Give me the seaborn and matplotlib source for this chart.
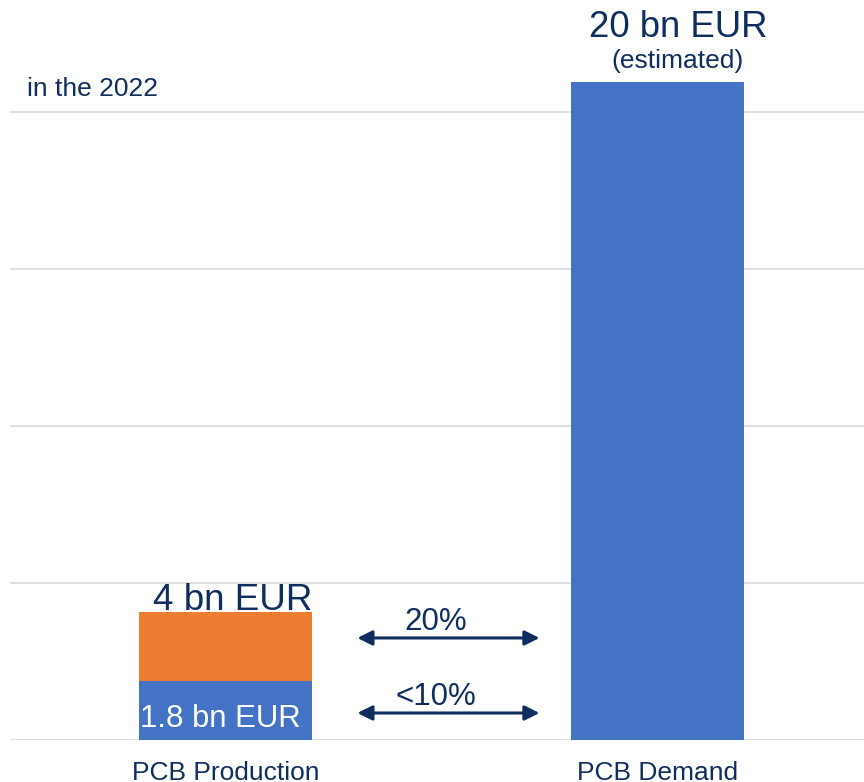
import numpy as np
import pandas as pd
import matplotlib
matplotlib.use("Agg")
import matplotlib.pyplot as plt
import seaborn as sns

# values (bn EUR)
categories = ["PCB Production", "PCB Demand"]
totals = [4.08, 20.95]          # full bar height
lower_part = [1.88, 0.0]        # blue bottom segment of the production bar
arrow_levels = [3.25, 0.86]
arrow_labels = ["20%", "<10%"]

navy = "#0f2d5e"
blue = "#4472C4"
orange = "#ED7D31"

sns.set_theme(style="white")
plt.rcParams["font.family"] = ["Liberation Sans", "DejaVu Sans"]

df_tot = pd.DataFrame({"cat": categories, "value": totals})
df_low = pd.DataFrame({"cat": categories, "value": lower_part})

fig = plt.figure(figsize=(8.64, 7.82), dpi=100)
ax = fig.add_axes([10 / 864, 42 / 782, 854 / 864, 740 / 782])

sns.barplot(data=df_tot, x="cat", y="value", hue="cat", palette=[orange, blue],
            width=0.4, linewidth=0, saturation=1, legend=False, ax=ax)
sns.barplot(data=df_low, x="cat", y="value", hue="cat", palette=[blue, blue],
            width=0.4, linewidth=0, saturation=1, legend=False, ax=ax)

ax.set_xlim(-0.5, 1.479)
ax.set_ylim(0, 23.57)
ax.set_yticks([0, 5, 10, 15, 20])
ax.set_yticklabels([])
ax.tick_params(axis="y", length=0)
ax.tick_params(axis="x", length=0, pad=15, labelsize=19, labelcolor=navy)
ax.yaxis.grid(True, color="#d9d9d9", linewidth=1.2)
ax.set_axisbelow(True)
for s in ax.spines.values():
    s.set_visible(False)
ax.set_xlabel("")
ax.set_ylabel("")

# labels
ax.text(0.015, totals[0] + 0.06, "4 bn EUR", ha="center", va="baseline",
        fontsize=26.5, color=navy, clip_on=False)
ax.text(-0.012, 0.41, "1.8 bn EUR", ha="center", va="baseline",
        fontsize=22.4, color="white")
ax.text(1.049, 22.39, "20 bn EUR", ha="center", va="baseline",
        fontsize=26.3, color=navy, clip_on=False)
ax.text(1.047, 21.4, "(estimated)", ha="center", va="baseline",
        fontsize=19, color=navy, clip_on=False)
ax.text(-0.46, 20.5, "in the 2022", ha="left", va="baseline",
        fontsize=19, color=navy)

# double arrows between the bars
for lvl, lab in zip(arrow_levels, arrow_labels):
    ax.annotate("", xy=(0.305, lvl), xytext=(0.727, lvl),
                arrowprops=dict(arrowstyle="<|-|>", color=navy, lw=2.2,
                                mutation_scale=22, shrinkA=0, shrinkB=0))
    ax.text(0.487, lvl + 0.25, lab, ha="center", va="baseline",
            fontsize=22.5, color=navy)

fig.savefig("out.png", dpi=100)
